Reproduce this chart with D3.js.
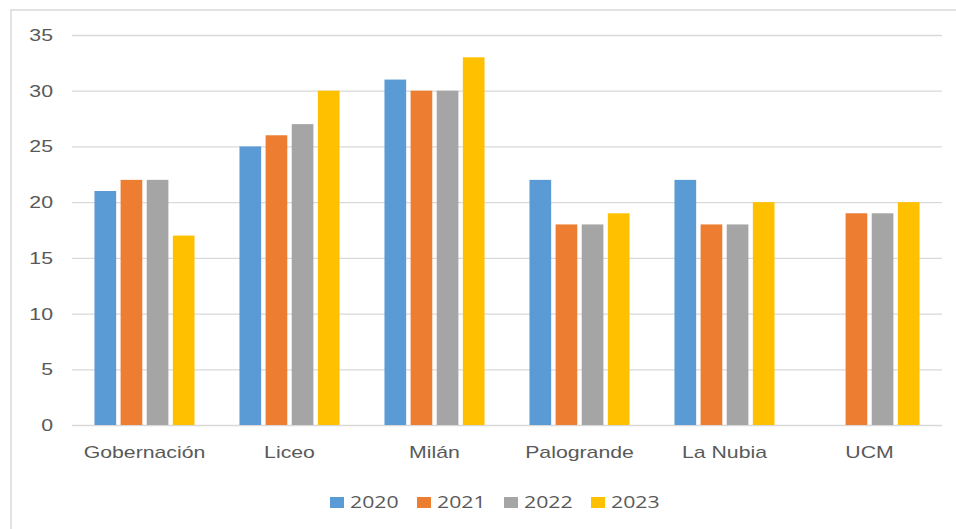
<!DOCTYPE html>
<html>
<head>
<meta charset="utf-8">
<script src="https://cdn.jsdelivr.net/npm/d3@7"></script>
<style>
  body { margin: 0; background: #fff; }
  svg { display: block; font-family: "Open Sans", sans-serif; }
</style>
</head>
<body>
<div id="plot"></div>
<script>
// sites and years
var sites = ["Gobernación", "Liceo", "Milán", "Palogrande", "La Nubia", "UCM"];
var years = ["2020", "2021", "2022", "2023"];

// one array per year, same order as sites (UCM has no 2020 value)
var v2020 = [21, 25, 31, 22, 22, null];
var v2021 = [22, 26, 30, 18, 18, 19];
var v2022 = [22, 27, 30, 18, 18, 19];
var v2023 = [17, 30, 33, 19, 20, 20];

var yTicks = [0, 5, 10, 15, 20, 25, 30, 35];
var colors = ["#5B9BD5", "#ED7D31", "#A5A5A5", "#FFC000"];

window.addEventListener('load', main);

function main(){
  var W = 956, H = 529;
  var left = 72, right = 942, top = 35, bottom = 425;
  var sx = 1.25; // text is a bit stretched sideways in the picture

  var series = [v2020, v2021, v2022, v2023];
  var rows = [];
  sites.forEach(function(s, i) {
    years.forEach(function(y, j) {
      rows.push({site: s, year: y, value: series[j][i], k: j});
    });
  });

  var svg = d3.select('#plot').append('svg')
    .attr('width', W).attr('height', H);

  // chart frame
  svg.append('rect')
    .attr('x', 11).attr('y', 10)
    .attr('width', 980).attr('height', 560)
    .attr('fill', 'none')
    .attr('stroke', '#d9d9d9')
    .attr('stroke-width', 1.5);

  var x0 = d3.scaleBand().domain(sites).range([left, right])
    .paddingInner(0.31).paddingOuter(0.155);
  var x1 = d3.scaleBand().domain(years).range([0, x0.bandwidth()])
    .paddingInner(0.17);
  var y = d3.scaleLinear().domain([0, 35]).range([bottom, top]);

  // y axis with gridlines
  var gy = svg.append('g')
    .attr('transform', 'translate(' + left + ',0)')
    .call(d3.axisLeft(y).tickValues(yTicks)
      .tickSize(-(right - left)).tickPadding(15.2));
  gy.select('.domain').remove();
  gy.selectAll('line').attr('stroke', '#d9d9d9').attr('stroke-width', 1.3);
  gy.selectAll('text')
    .attr('fill', '#595959')
    .style('font-size', '17px')
    .attr('transform', 'scale(' + sx + ',1)');

  // bars
  svg.append('g').selectAll('rect')
    .data(rows.filter(function(d) { return d.value != null; }))
    .join('rect')
    .attr('x', function(d) { return x0(d.site) + x1(d.year); })
    .attr('y', function(d) { return y(d.value); })
    .attr('width', x1.bandwidth())
    .attr('height', function(d) { return y(0) - y(d.value); })
    .attr('fill', function(d) { return colors[d.k]; });

  // x axis labels
  var gx = svg.append('g')
    .attr('transform', 'translate(0,' + bottom + ')')
    .call(d3.axisBottom(x0).tickSize(0).tickPadding(0));
  gx.select('.domain').remove();
  gx.selectAll('text')
    .attr('y', 33).attr('dy', null)
    .attr('fill', '#595959')
    .style('font-size', '17px')
    .attr('transform', 'scale(' + sx + ',1)');

  // legend
  var lg = svg.append('g').selectAll('g')
    .data(years)
    .join('g')
    .attr('transform', function(d, i) { return 'translate(' + (330 + i * 87) + ',0)'; });
  lg.append('rect')
    .attr('x', 0).attr('y', 497)
    .attr('width', 14).attr('height', 11)
    .attr('fill', function(d, i) { return colors[i]; });
  lg.append('text')
    .attr('x', 20 / sx).attr('y', 508)
    .attr('fill', '#595959')
    .style('font-size', '17px')
    .attr('transform', 'scale(' + sx + ',1)')
    .text(function(d) { return d; });
}
</script>
</body>
</html>
